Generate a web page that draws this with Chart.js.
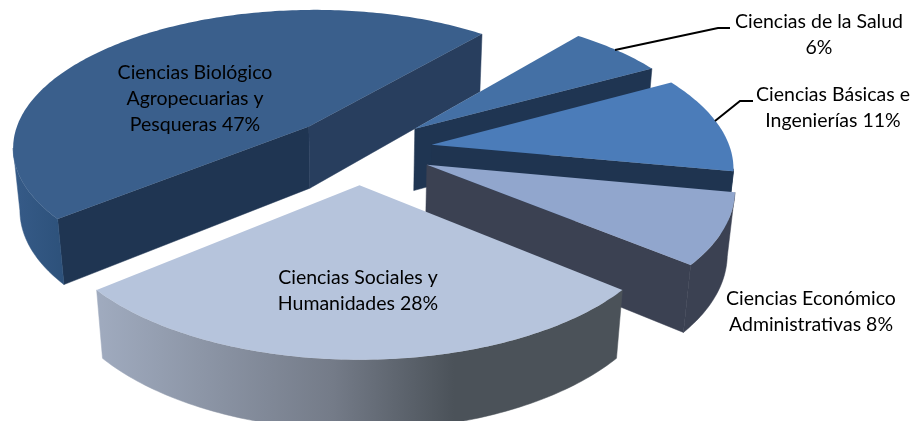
<!DOCTYPE html>
<html>
<head>
<meta charset="utf-8">
<script src="https://cdn.jsdelivr.net/npm/chart.js@4/dist/chart.umd.js"></script>
<style>
html, body { margin: 0; padding: 0; background: #fff; }
canvas { display: block; }
</style>
</head>
<body>
<canvas id="pie" width="914" height="421"></canvas>
<script>
// values
const categories = ['Ciencias de la Salud', 'Ciencias Básicas e Ingenierías', 'Ciencias Económico Administrativas', 'Ciencias Sociales y Humanidades', 'Ciencias Biológico Agropecuarias y Pesqueras'];
const values = [6, 11, 8, 28, 47];
const labelLines = [
    ['Ciencias de la Salud', '6%'],
    ['Ciencias Básicas e', 'Ingenierías 11%'],
    ['Ciencias Económico', 'Administrativas 8%'],
    ['Ciencias Sociales y', 'Humanidades 28%'],
    ['Ciencias Biológico', 'Agropecuarias y', 'Pesqueras 47%']
];

// colours per slice
const topColors = ['#4470a5', '#4b7cb9', '#91a6cd', '#b6c4dc', '#3a5f8c'];
const edgeColors = ['#1f3552', '#1f3450', '#3b4152', '#4b5259', '#1f3552']; // wall at the arc start
const backColors = ['#1f3552', '#1f3450', '#3b4152', '#4b5259', '#283e5e']; // wall at the arc end
const outerColors = [
    [[0, '#1f3552'], [1, '#1f3552']],
    [[0, '#1f3450'], [1, '#1f3450']],
    [[0, '#3b4152'], [1, '#3b4152']],
    [[0, '#a0abbf'], [0.45, '#747b88'], [0.68, '#4b5259'], [1, '#4b5259']],
    [[0, '#365b88'], [0.12, '#2c5079'], [1, '#2c5079']]
];

// where the label text and its leader go
const labelSpots = [[819, 22], [833, 95], [811, 299], [358, 278], [195, 73]];
const leaders = [
    [[615, 50], [718, 28], [730, 28]],
    [[715, 121], [740, 101], [753, 101]]
];

// fake 3d view of the pie
const view = { cx: 359.5, cy: 150, scale: 299, tilt: 0.465, persp: 0.14, depth: 64, converge: 0.02 };

function project(u, v, z) {
    const w = 1 - view.persp * v + view.converge * z;
    return {
        x: view.cx + view.scale * u / w,
        y: view.cy + (view.scale * view.tilt * v + view.depth * z) / w
    };
}

// outline of one slice on the ground plane, from chart.js arc geometry
function outline(arc) {
    const mid = (arc.startAngle + arc.endAngle) / 2;
    const off = arc.options.offset / arc.outerRadius;
    const tip = { u: Math.cos(mid) * off, v: Math.sin(mid) * off };
    const rim = [];
    const steps = Math.ceil((arc.endAngle - arc.startAngle) * 60);
    for (let i = 0; i <= steps; i++) {
        const a = arc.startAngle + (arc.endAngle - arc.startAngle) * i / steps;
        rim.push({ u: tip.u + Math.cos(a), v: tip.v + Math.sin(a) });
    }
    return { tip, rim, mid };
}

function fillWall(ctx, pts, fill) {
    // only the parts running leftwards on screen face the viewer
    let run = [];
    const flush = () => {
        if (run.length > 1) {
            ctx.beginPath();
            run.forEach((p, i) => {
                const s = project(p.u, p.v, 0);
                if (i === 0) ctx.moveTo(s.x, s.y); else ctx.lineTo(s.x, s.y);
            });
            run.slice().reverse().forEach(p => {
                const s = project(p.u, p.v, 1);
                ctx.lineTo(s.x, s.y);
            });
            ctx.closePath();
            ctx.fillStyle = fill;
            ctx.fill();
            ctx.strokeStyle = fill;
            ctx.lineWidth = 0.5;
            ctx.stroke();
        }
        run = [];
    };
    for (let i = 0; i < pts.length - 1; i++) {
        const a = project(pts[i].u, pts[i].v, 0);
        const b = project(pts[i + 1].u, pts[i + 1].v, 0);
        if (b.x < a.x) {
            if (run.length === 0) run.push(pts[i]);
            run.push(pts[i + 1]);
        } else {
            flush();
        }
    }
    flush();
}

const pie3d = {
    id: 'pie3d',
    beforeDatasetDraw(chart, args) {
        const ctx = chart.ctx;
        const arcs = chart.getDatasetMeta(args.index).data;
        const order = arcs.map((arc, i) => ({ i, shape: outline(arc) }));
        // back slices first
        order.sort((a, b) => a.shape.tip.v - b.shape.tip.v);

        order.forEach(({ i, shape }) => {
            const { tip, rim } = shape;
            ctx.save();
            fillWall(ctx, [tip, rim[0]], edgeColors[i]);
            fillWall(ctx, [rim[rim.length - 1], tip], backColors[i]);

            const xs = rim.map(p => project(p.u, p.v, 0).x);
            const outer = ctx.createLinearGradient(Math.min(...xs), 0, Math.max(...xs), 0);
            outerColors[i].forEach(s => outer.addColorStop(s[0], s[1]));
            fillWall(ctx, rim, outer);

            ctx.beginPath();
            [tip, ...rim].forEach((p, n) => {
                const s = project(p.u, p.v, 0);
                if (n === 0) ctx.moveTo(s.x, s.y); else ctx.lineTo(s.x, s.y);
            });
            ctx.closePath();
            ctx.fillStyle = arcs[i].options.backgroundColor;
            ctx.fill();
            ctx.restore();
        });
        return false; // slices are painted above
    },
    afterDraw(chart) {
        const ctx = chart.ctx;
        ctx.save();
        ctx.strokeStyle = '#000';
        ctx.lineWidth = 2;
        leaders.forEach(line => {
            ctx.beginPath();
            line.forEach((p, n) => n === 0 ? ctx.moveTo(p[0], p[1]) : ctx.lineTo(p[0], p[1]));
            ctx.stroke();
        });
        ctx.fillStyle = '#000';
        ctx.font = '19.5px Lato';
        ctx.textAlign = 'center';
        ctx.textBaseline = 'middle';
        labelLines.forEach((lines, i) => {
            lines.forEach((text, n) => {
                ctx.fillText(text, labelSpots[i][0], labelSpots[i][1] + n * 26);
            });
        });
        ctx.restore();
    }
};

new Chart(document.getElementById('pie'), {
    type: 'pie',
    data: {
        labels: categories,
        datasets: [{
            data: values,
            backgroundColor: topColors,
            borderWidth: 0,
            offset: 46
        }]
    },
    options: {
        responsive: false,
        animation: false,
        rotation: 39.6,
        layout: { padding: 0 },
        plugins: {
            legend: { display: false },
            tooltip: { enabled: false }
        }
    },
    plugins: [pie3d]
});
</script>
</body>
</html>
